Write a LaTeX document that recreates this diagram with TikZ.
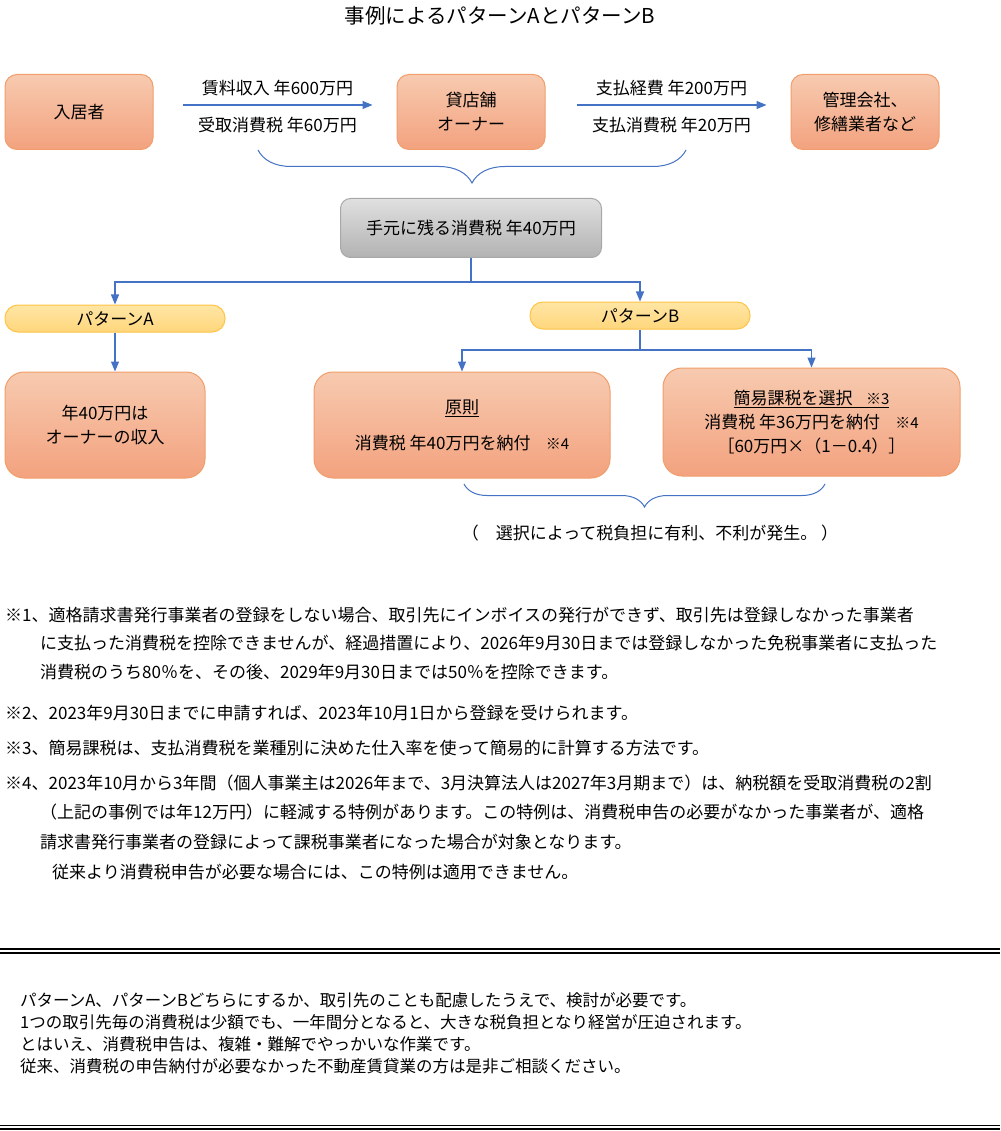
\documentclass[tikz,border=0pt]{standalone}
\usepackage{fontspec}
\setmainfont{Noto Sans CJK JP}
\usetikzlibrary{arrows.meta,decorations.pathreplacing,shadings}

\definecolor{orangetop}{RGB}{247,202,176}
\definecolor{orangebot}{RGB}{243,162,126}
\definecolor{orangeline}{RGB}{241,158,108}
\definecolor{graytop}{RGB}{224,224,224}
\definecolor{graybot}{RGB}{178,178,178}
\definecolor{grayline}{RGB}{168,168,168}
\definecolor{pilltop}{RGB}{255,230,165}
\definecolor{pillbot}{RGB}{255,214,124}
\definecolor{pillline}{RGB}{255,196,70}
\definecolor{flowblue}{RGB}{68,114,196}

\newcommand\titlefnt{\fontsize{20.5}{24}\selectfont}
\newcommand\boxfnt{\fontsize{17}{24}\selectfont}
\newcommand\notefnt{\fontsize{17}{24}\selectfont}
\newcommand\closefnt{\fontsize{16.5}{22}\selectfont}
\newcommand\refmark{\fontsize{15}{15}\selectfont}

\tikzset{
  actor/.style={draw=orangeline, line width=1pt, rounded corners=12pt,
    top color=orangetop, bottom color=orangebot, align=center, font=\boxfnt,
    minimum width=148pt, minimum height=75pt, inner sep=2pt},
  outcome/.style={actor, rounded corners=19pt, minimum height=106pt},
  keptbox/.style={draw=grayline, line width=1pt, rounded corners=10pt,
    top color=graytop, bottom color=graybot, font=\boxfnt,
    minimum width=261pt, minimum height=59pt},
  pill/.style={draw=pillline, line width=1pt, rounded corners=13pt,
    top color=pilltop, bottom color=pillbot, font=\boxfnt,
    minimum width=220pt, minimum height=27pt, inner sep=0pt},
  flow/.style={draw=flowblue, line width=1.2pt, -{Triangle[length=10pt,width=8pt]}},
  bracket/.style={draw=flowblue, line width=1pt, decorate,
    decoration={brace, mirror, amplitude=#1}},
  note/.style={anchor=west, inner sep=0pt, font=\notefnt},
  closing/.style={anchor=west, inner sep=0pt, font=\closefnt},
  rule/.style={double, line width=1.6pt, double distance=2.2pt}
}

\begin{document}
\begin{tikzpicture}[x=1pt,y=-1pt]
\useasboundingbox (0,0) rectangle (1000,1131);
\fill[white] (0,0) rectangle (1000,1131);

\node (title) at (500,16) {\titlefnt 事例によるパターンAとパターンB};

% top row
\node[actor] (tenant) at (79,112) {入居者};
\node[actor] (owner) at (471,112) {貸店舗\\オーナー};
\node[actor] (vendor) at (865,112) {管理会社、\\修繕業者など};
\draw[flow] ([shift={(29,-7)}]tenant.east) -- ([shift={(-24,-7)}]owner.west)
  node[midway, yshift=17pt, font=\boxfnt] (rent) {賃料収入 年600万円}
  node[midway, yshift=-20pt, font=\boxfnt] (taxin) {受取消費税 年60万円};
\draw[flow] ([shift={(31,-7)}]owner.east) -- ([shift={(-24,-7)}]vendor.west)
  node[midway, yshift=17pt, font=\boxfnt] (cost) {支払経費 年200万円}
  node[midway, yshift=-20pt, font=\boxfnt] (taxout) {支払消費税 年20万円};

\coordinate (b1l) at (258,150);
\coordinate (b1r) at (686,150);
\draw[bracket=33pt] (b1l) -- (b1r);

\node[keptbox] (kept) at (471,228) {手元に残る消費税 年40万円};

% patterns
\node[pill] (patA) at (115,318.5) {パターンA};
\node[pill] (patB) at (640,315.5) {パターンB};
\coordinate (split) at (471,282);
\draw[flow] (kept.south) -- (split) -| (patA.north);
\draw[flow] (split) -| (patB.north);

\node[outcome, minimum width=200pt] (boxA) at (105,425) {年40万円は\\オーナーの収入};
\node[outcome, minimum width=296pt] (basic) at (462,425)
  {\underline{原則}\\[12pt]消費税 年40万円を納付\hspace{0.9em}{\refmark ※4}};
\node[outcome, minimum width=297pt, minimum height=108pt] (simple) at (811.5,422)
  {\underline{簡易課税を選択\hspace{0.8em}{\refmark ※3}}\\
   消費税 年36万円を納付\hspace{0.9em}{\refmark ※4}\\
   ［60万円×（1－0.4）］};
\draw[flow] (patA.south) -- (patA.south |- boxA.north);
\coordinate (split2) at (640,350);
\draw[flow] (patB.south) -- (split2) -| (basic.north);
\draw[flow] (split2) -| (simple.north);

\coordinate (b2l) at (464,484);
\coordinate (b2r) at (825,484);
\draw[bracket=23pt] (b2l) -- (b2r);
\node[font=\boxfnt] (choice) at (650,533) {（　選択によって税負担に有利、不利が発生。 ）};

% notes
\node[note] (n1a) at (5,615) {※1、適格請求書発行事業者の登録をしない場合、取引先にインボイスの発行ができず、取引先は登録しなかった事業者};
\node[note] (n1b) at (40,643) {に支払った消費税を控除できませんが、経過措置により、2026年9月30日までは登録しなかった免税事業者に支払った};
\node[note] (n1c) at (40,672) {消費税のうち80％を、その後、2029年9月30日までは50％を控除できます。};
\node[note] (n2) at (5,713) {※2、2023年9月30日までに申請すれば、2023年10月1日から登録を受けられます。};
\node[note] (n3) at (5,748) {※3、簡易課税は、支払消費税を業種別に決めた仕入率を使って簡易的に計算する方法です。};
\node[note] (n4a) at (5,783) {※4、2023年10月から3年間（個人事業主は2026年まで、3月決算法人は2027年3月期まで）は、納税額を受取消費税の2割};
\node[note] (n4b) at (40,812) {（上記の事例では年12万円）に軽減する特例があります。この特例は、消費税申告の必要がなかった事業者が、適格};
\node[note] (n4c) at (40,842) {請求書発行事業者の登録によって課税事業者になった場合が対象となります。};
\node[note] (n4d) at (52,872) {従来より消費税申告が必要な場合には、この特例は適用できません。};

% closing remarks
\draw[rule] (0,951) -- (1000,951);
\node[closing] (c1) at (20,1000) {パターンA、パターンBどちらにするか、取引先のことも配慮したうえで、検討が必要です。};
\node[closing] (c2) at (20,1022) {1つの取引先毎の消費税は少額でも、一年間分となると、大きな税負担となり経営が圧迫されます。};
\node[closing] (c3) at (20,1044) {とはいえ、消費税申告は、複雑・難解でやっかいな作業です。};
\node[closing] (c4) at (20,1066) {従来、消費税の申告納付が必要なかった不動産賃貸業の方は是非ご相談ください。};
\draw[rule] (0,1127.3) -- (1000,1127.3);
\end{tikzpicture}
\end{document}
